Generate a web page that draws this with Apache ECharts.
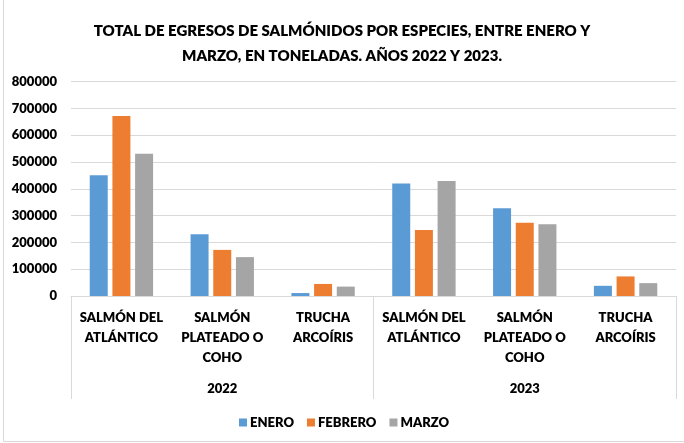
<!DOCTYPE html>
<html>
<head>
<meta charset="utf-8">
<script src="https://cdn.jsdelivr.net/npm/echarts@6/dist/echarts.min.js"></script>
<style>
  html, body { margin: 0; padding: 0; background: #fff; }
  #chart { width: 684px; height: 443px; }
</style>
</head>
<body>
<div id="chart"></div>
<script>
// especies (primer nivel del eje) y años (segundo nivel)
const especies = [
  'SALMÓN DEL\nATLÁNTICO', 'SALMÓN\nPLATEADO O\nCOHO', 'TRUCHA\nARCOÍRIS',
  'SALMÓN DEL\nATLÁNTICO', 'SALMÓN\nPLATEADO O\nCOHO', 'TRUCHA\nARCOÍRIS'
];
const anios = ['2022', '2023'];

// toneladas
const enero   = [450000, 230000, 11000, 420000, 327000, 38000];
const febrero = [671000, 172000, 45000, 246000, 273000, 73000];
const marzo   = [531000, 145000, 35000, 429000, 268000, 48000];

const fuente = 'Lato, sans-serif';
const peso = 800;
const gris = '#d9d9d9';

let chart = echarts.init(document.getElementById('chart'));

chart.setOption({
  backgroundColor: '#fff',
  textStyle: { fontFamily: fuente },
  title: {
    text: 'TOTAL DE EGRESOS DE SALMÓNIDOS POR ESPECIES, ENTRE ENERO Y\nMARZO, EN TONELADAS. AÑOS 2022 Y 2023.',
    left: 'center',
    top: 14,
    textStyle: {
      fontFamily: fuente,
      fontSize: 15,
      fontWeight: peso,
      lineHeight: 25,
      color: '#000'
    }
  },
  legend: {
    data: ['ENERO', 'FEBRERO', 'MARZO'],
    left: 239,
    top: 416,
    padding: 0,
    itemWidth: 8,
    itemHeight: 8,
    itemGap: 13,
    icon: 'rect',
    textStyle: { fontFamily: fuente, fontSize: 13, fontWeight: peso, color: '#000', padding: [0, 0, 0, -2] }
  },
  grid: { left: 71, right: 8, top: 81.5, bottom: 147 },
  xAxis: [{
    type: 'category',
    data: especies,
    axisLine: { lineStyle: { color: gris } },
    axisTick: { show: false },
    axisLabel: {
      interval: 0,
      margin: 12,
      fontFamily: fuente,
      fontSize: 13,
      fontWeight: peso,
      lineHeight: 20,
      color: '#000'
    }
  }, {
    type: 'category',
    data: anios,
    position: 'bottom',
    axisLine: { show: false },
    axisTick: { show: true, length: 103, lineStyle: { color: gris } },
    axisLabel: {
      margin: 85,
      fontFamily: fuente,
      fontSize: 13,
      fontWeight: peso,
      lineHeight: 16,
      color: '#000'
    }
  }],
  yAxis: {
    type: 'value',
    min: 0,
    max: 800000,
    interval: 100000,
    axisLine: { show: false },
    axisTick: { show: false },
    splitLine: { lineStyle: { color: gris } },
    axisLabel: {
      margin: 14,
      formatter: function (v) { return String(v); },
      fontFamily: fuente,
      fontSize: 13,
      fontWeight: peso,
      color: '#000'
    }
  },
  series: [{
    name: 'ENERO',
    type: 'bar',
    barWidth: 18,
    barGap: '26%',
    itemStyle: { color: '#5b9bd5' },
    data: enero
  }, {
    name: 'FEBRERO',
    type: 'bar',
    barWidth: 18,
    barGap: '26%',
    itemStyle: { color: '#ed7d31' },
    data: febrero
  }, {
    name: 'MARZO',
    type: 'bar',
    barWidth: 18,
    barGap: '26%',
    itemStyle: { color: '#a5a5a5' },
    data: marzo
  }],
  graphic: [{
    type: 'polyline',
    shape: { points: [[3.5, 0], [3.5, 441.5], [684, 441.5]] },
    style: { stroke: gris, fill: null, lineWidth: 1 },
    silent: true
  }]
});
</script>
</body>
</html>
